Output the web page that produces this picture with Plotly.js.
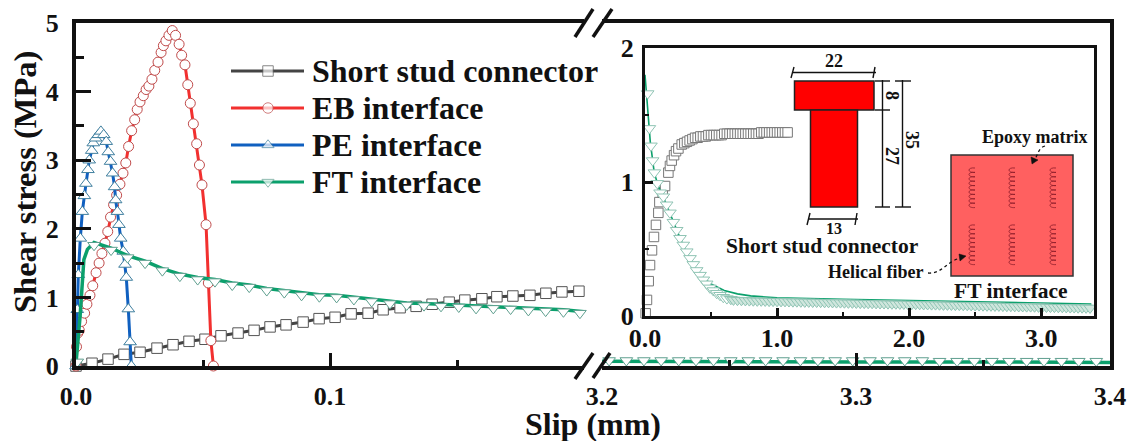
<!DOCTYPE html>
<html><head><meta charset="utf-8">
<script src="https://cdn.plot.ly/plotly-3.0.1.min.js"></script>
<style>html,body{margin:0;padding:0;background:#fff}</style></head>
<body><div id="chart" style="width:1131px;height:441px"></div>
<script>
const studX=[0,.0063,.0126,.0189,.0252,.0319,.0382,.0445,.0508,.0571,.0638,.0701,.0764,.0827,.0894,.0957,.1020,.1083,.1150,.1209,.1276,.1339,.1402,.1469,.1531,.1598,.1657,.1720,.1787,.1850,.1913,.1980];
const studY=[0,.04,.10,.17,.20,.26,.31,.36,.39,.44,.48,.52,.57,.60,.64,.69,.71,.76,.77,.82,.85,.87,.90,.93,.96,.98,1.01,1.02,1.03,1.06,1.08,1.09];
const ebX=[0,.0002,.0007,.0013,.0022,.0034,.0043,.0055,.0066,.0079,.0091,.0102,.0114,.0125,.0136,.0148,.0160,.0173,.0185,.0196,.0207,.0219,.0231,.0241,.0252,.0265,.0276,.0287,.0299,.0310,.0323,.0335,.0344,.0354,.0366,.0379,.0392,.0406,.0416,.0429,.0440,.0450,.0462,.0475,.0486,.0496,.0512,.0521,.0531,.0541];
const ebY=[0,.28,.48,.52,.65,.77,.90,1.03,1.17,1.36,1.50,1.64,1.79,1.96,2.17,2.35,2.49,2.65,2.81,2.96,3.20,3.43,3.59,3.74,3.85,3.94,4.03,4.08,4.18,4.31,4.43,4.57,4.67,4.74,4.82,4.89,4.82,4.69,4.53,4.39,4.10,3.83,3.53,3.24,2.93,2.64,2.06,1.21,.37,0];
const peX=[0,.0005,.0009,.0017,.0025,.0033,.0039,.0047,.0052,.0062,.0068,.0077,.0088,.0098,.0109,.0119,.0127,.0136,.0144,.0152,.0156,.0163,.0169,.0176,.0186,.0193,.0198,.0206,.0213,.0218];
const peY=[0,.82,1.33,1.86,2.25,2.48,2.66,2.86,3.00,3.14,3.25,3.32,3.37,3.42,3.37,3.27,3.12,2.98,2.81,2.61,2.42,2.25,2.06,1.86,1.67,1.48,1.29,.83,.35,0];
const ftX=[.0005,.0071,.0138,.0203,.0272,.0340,.0409,.0479,.0547,.0615,.0682,.0751,.0820,.0888,.0958,.1026,.1094,.1164,.1236,.1302,.1370,.1437,.1507,.1575,.1643,.1711,.1781,.1849,.1919,.1984];
const ftY=[.06,1.76,1.69,1.58,1.50,1.39,1.31,1.26,1.23,1.18,1.15,1.10,1.07,1.03,1.01,1.00,.97,.94,.91,.89,.88,.87,.86,.84,.84,.83,.81,.80,.79,.77];
const ftLineX=[0,.0016,.0031,.0045,.0071,.0138,.0203,.0272,.0340,.0409,.0479,.0547,.0615,.0682,.0751,.0820,.0888,.0958,.1026,.1094,.1164,.1236,.1302,.1370,.1437,.1507,.1575,.1643,.1711,.1781,.1849,.1919,.2];
const ftLineY=[.04,.72,1.55,1.70,1.80,1.72,1.61,1.53,1.42,1.34,1.29,1.26,1.21,1.18,1.13,1.10,1.06,1.04,1.03,1.00,.97,.94,.92,.91,.90,.89,.87,.87,.86,.84,.83,.82,.79];
const ftTailX=[3.2028,3.2096,3.2165,3.2233,3.2302,3.2370,3.2439,3.2507,3.2576,3.2644,3.2713,3.2781,3.2850,3.2918,3.2987,3.3055,3.3124,3.3192,3.3261,3.3329,3.3398,3.3466,3.3535,3.3603,3.3672,3.3740,3.3809,3.3877,3.3946];
const ftTailY=[.08,.08,.08,.08,.08,.08,.08,.08,.08,.08,.08,.08,.08,.08,.08,.08,.08,.08,.08,.07,.07,.07,.07,.07,.07,.07,.07,.07,.07];
const ftTailLineX=[3.2,3.25,3.3,3.35,3.4];
const ftTailLineY=[.07,.06,.06,.06,.05];
const insetStudX=[.005,.015,.028,.038,.053,.068,.083,.101,.109,.134,.152,.177,.189,.202,.220,.235,.253,.278,.298,.318,.338,.359,.379,.399,.419,.439,.460,.48,.50,.52,.54,.56,.58,.60,.62,.64,.66,.68,.70,.72,.74,.76,.78,.80,.82,.84,.86,.88,.90,.92,.94,.96,.98,1.00,1.02,1.04,1.06,1.08];
const insetStudY=[.02,.12,.26,.38,.49,.59,.68,.77,.85,.92,.97,1.07,1.12,1.16,1.20,1.23,1.25,1.28,1.29,1.30,1.31,1.32,1.33,1.33,1.34,1.34,1.34,1.35,1.35,1.35,1.35,1.35,1.35,1.36,1.36,1.36,1.36,1.36,1.36,1.36,1.36,1.36,1.36,1.36,1.36,1.36,1.36,1.37,1.37,1.37,1.37,1.37,1.37,1.37,1.37,1.37,1.37,1.37];
const insetFtX=[.020,.033,.045,.058,.071,.093,.114,.139,.164,.189,.215,.240,.265,.290,.316,.341,.366,.391,.417,.442,.467,.492,.518,.543,.568,.593,.62,.65,.67,.70,.73,.76,.79,.82,.85,.88,.91,.94,.97,1.00,1.03,1.06,1.09,1.12,1.15,1.18,1.21,1.24,1.27,1.30,1.33,1.36,1.39,1.42,1.45,1.48,1.51,1.54,1.57,1.60,1.63,1.66,1.69,1.72,1.75,1.78,1.81,1.84,1.87,1.90,1.93,1.96,1.99,2.02,2.05,2.08,2.11,2.14,2.17,2.20,2.23,2.26,2.29,2.32,2.35,2.38,2.41,2.44,2.47,2.50,2.53,2.56,2.59,2.62,2.65,2.68,2.71,2.74,2.77,2.80,2.83,2.86,2.89,2.92,2.95,2.98,3.01,3.04,3.07,3.10,3.13,3.16,3.19,3.22,3.25,3.28,3.31,3.34,3.37];
const insetFtY=[1.66,1.40,1.27,1.16,1.07,.99,.92,.89,.83,.77,.70,.64,.58,.53,.48,.43,.385,.34,.305,.27,.24,.21,.19,.17,.155,.14,.13,.125,.12,.118,.117,.116,.115,.114,.113,.113,.112,.111,.111,.110,.109,.109,.108,.107,.107,.106,.105,.105,.104,.104,.103,.102,.102,.101,.100,.100,.099,.098,.098,.097,.096,.096,.095,.095,.094,.093,.093,.092,.091,.091,.090,.090,.089,.088,.088,.087,.086,.086,.085,.085,.084,.083,.083,.082,.081,.081,.080,.080,.079,.078,.078,.077,.076,.076,.075,.075,.074,.073,.073,.072,.071,.071,.070,.070,.069,.068,.068,.067,.066,.066,.065,.065,.064,.063,.063,.062,.062,.061,.060];
const insetFtLineX=[0,.02,.04,.07,.10,.15,.2,.3,.4,.5,.6,.7,.8,1,1.5,2,2.5,3,3.38];
const insetFtLineY=[1.8,1.55,1.3,1.07,.97,.86,.74,.5,.32,.24,.19,.165,.15,.135,.125,.115,.105,.097,.09];
const seriesNames=["Short stud connector","EB interface","PE interface","FT interface"];
const leftTicks=[0,.1], leftTickText=["0.0","0.1"];
const rightTicks=[3.2,3.3,3.4], rightTickText=["3.2","3.3","3.4"];
const insetXTicks=[0,1,2,3], insetXText=["0.0","1.0","2.0","3.0"];
const yTicks=[0,1,2,3,4,5], insetYTicks=[0,1,2];
const coilX=[972,1012,1053], coilTop=[168,225];

const SERIF="Liberation Serif";
const C={stud:"#444444",eb:"#f2302f",pe:"#1060c0",ft:"#0ba06c"};
const E={stud:"#555555",eb:"#c04a4a",pe:"#3f7f9f",ft:"#5f9f8f"};
const L=76,R=1110,T=23,B=366;
const H={l:L,r:1131-R,t:T,b:441-B,pad:0};
const px=x=>(x-L)/(R-L), py=y=>(B-y)/(B-T);
function tr(x,y,c,e,sym,name,xa,ya,extra){return Object.assign({x,y,name,xaxis:xa,yaxis:ya,mode:"lines+markers",showlegend:false,cliponaxis:false,
 line:{color:c,width:3},marker:{symbol:sym,size:sym=="circle"?10:(sym=="square"?10.5:11),color:"#fff",line:{color:e,width:1}}},extra||{});}
function lineOnly(x,y,c,xa,ya,w){return {x,y,xaxis:xa,yaxis:ya,mode:"lines",showlegend:false,hoverinfo:"skip",line:{color:c,width:w||3}};}
const traces=[
 tr(studX,studY,C.stud,E.stud,"square",seriesNames[0],"x","y"),
 tr(ebX,ebY,C.eb,E.eb,"circle",seriesNames[1],"x","y"),
 tr(peX,peY,C.pe,E.pe,"triangle-up",seriesNames[2],"x","y"),
 lineOnly(ftLineX,ftLineY,C.ft,"x","y",3.5),
 tr(ftX,ftY,C.ft,E.ft,"triangle-down",seriesNames[3],"x","y",{mode:"markers"}),
 lineOnly(ftTailLineX,ftTailLineY,C.ft,"x2","y2",3.5),
 tr(ftTailX,ftTailY,C.ft,E.ft,"triangle-down",seriesNames[3],"x2","y2",{mode:"markers"}),
 tr(insetStudX,insetStudY,C.stud,"#777","square",seriesNames[0],"x3","y3",{mode:"markers",marker:{symbol:"square",size:9.5,color:"#fff",line:{color:"#777",width:1}}}),
 lineOnly(insetFtLineX,insetFtLineY,C.ft,"x3","y3",1.6),
 tr(insetFtX,insetFtY,C.ft,"#7fb8a8","triangle-down",seriesNames[3],"x3","y3",{mode:"markers",marker:{symbol:"triangle-down",size:11,color:insetFtX.map(v=>v>=.65?"#cfe6dd":"#fff"),line:{color:"#8fc4b4",width:1}}})
];
// legend keys: a key line with a marker at its middle, placed on a hidden pixel-scaled axis
const keyX=[231,268,304], keyRows=[71,108,145,182];
const keyStyle=[[C.stud,E.stud,"square"],[C.eb,E.eb,"circle"],[C.pe,E.pe,"triangle-up"],[C.ft,E.ft,"triangle-down"]];
keyRows.forEach((r,i)=>traces.push({x:keyX,y:[r,r,r],xaxis:"x4",yaxis:"y4",mode:"lines+markers",showlegend:false,hoverinfo:"skip",
  line:{color:keyStyle[i][0],width:3},marker:{symbol:keyStyle[i][2],size:[0,10.5,0],color:"#fff",line:{color:keyStyle[i][1],width:1}}}));
const tickfont={family:SERIF,size:26,weight:700,color:"#111"};
const axBase={showgrid:false,zeroline:false,showline:true,linecolor:"#111",linewidth:4,tickcolor:"#111",tickwidth:3,ticks:"inside",tickfont,fixedrange:true};
const layout={width:1131,height:441,margin:H,paper_bgcolor:"#fff",plot_bgcolor:"rgba(0,0,0,0)",font:{family:SERIF,color:"#111"},
 showlegend:false,
 xaxis:Object.assign({},axBase,{domain:[0,508/1034],range:[0,.2],tickmode:"array",tickvals:leftTicks,ticktext:leftTickText,ticklen:13,mirror:true,anchor:"y",ticklabelstandoff:4,
   minor:{tickvals:[.05,.15],ticks:"inside",ticklen:6,tickwidth:3,tickcolor:"#111"}}),
 yaxis:Object.assign({},axBase,{domain:[0,1],range:[0,5],tickmode:"array",tickvals:yTicks,ticklen:15,anchor:"x",ticklabelstandoff:8,
   minor:{dtick:.5,ticks:"inside",ticklen:8,tickwidth:3,tickcolor:"#111"}}),
 xaxis2:Object.assign({},axBase,{domain:[526/1034,1],range:[3.2,3.4],tickmode:"array",tickvals:rightTicks,ticktext:rightTickText,ticklen:13,mirror:true,anchor:"y2",ticklabelstandoff:4,
   minor:{tickvals:[3.25,3.35],ticks:"inside",ticklen:6,tickwidth:3,tickcolor:"#111"}}),
 yaxis2:Object.assign({},axBase,{domain:[0,1],range:[0,5],anchor:"x2",side:"right",ticks:"",showticklabels:false}),
 xaxis3:Object.assign({},axBase,{domain:[px(645),px(1094)],range:[0,3.4],tickmode:"array",tickvals:insetXTicks,ticktext:insetXText,ticklen:8,mirror:true,anchor:"y3",ticklabelstandoff:-3,linewidth:3,
   minor:{dtick:.5,ticks:"inside",ticklen:4,tickwidth:2,tickcolor:"#111"}}),
 yaxis3:Object.assign({},axBase,{domain:[py(316),py(48)],range:[0,2],tickmode:"array",tickvals:insetYTicks,ticklen:8,mirror:true,anchor:"x3",ticklabelstandoff:3,linewidth:3,
   minor:{dtick:.5,ticks:"inside",ticklen:4,tickwidth:2,tickcolor:"#111"}}),
 xaxis4:{visible:false,domain:[0,1],range:[L,R],anchor:"y4",fixedrange:true},
 yaxis4:{visible:false,domain:[0,1],range:[B,T],anchor:"x4",fixedrange:true},
 shapes:[],annotations:[]};
const S=layout.shapes,A=layout.annotations;
function seg(x0,y0,x1,y1,w,c){S.push({type:"line",xref:"paper",yref:"paper",x0:px(x0),y0:py(y0),x1:px(x1),y1:py(y1),line:{color:c||"#111",width:w}});}
function rect(x0,y0,x1,y1,fill,lc){S.push({type:"rect",xref:"paper",yref:"paper",x0:px(x0),y0:py(y0),x1:px(x1),y1:py(y1),fillcolor:fill,line:{color:lc,width:1.5},layer:"above"});}
function path(pts,opt){S.push(Object.assign({type:"path",xref:"paper",yref:"paper",path:pts},opt));}
const P=(x,y)=>px(x)+","+py(y);
function ann(text,x,y,size,angle,xa){A.push({text,xref:"paper",yref:"paper",x:px(x),y:py(y),xanchor:xa||"center",yanchor:"middle",showarrow:false,textangle:angle||0,font:{family:SERIF,size,weight:700,color:"#111"}});}
// legend labels
seriesNames.forEach((n,i)=>ann(n,310,keyRows[i],32,0,"left"));
// axis breaks
[[575,37,593,9],[593,37,612,9],[575,379,593,353],[593,378,610,353]].forEach(s=>seg(s[0],s[1],s[2],s[3],3.5));
// T section
rect(794.5,81,874,110,"#ff0000","#222");
rect(810.5,110,857.5,207,"#ff0000","#222");
seg(793,72.5,876,72.5,1.4);seg(794,67,791,78,1.4);seg(875,67,873,78,1.4);
seg(808,219,858,219,1.4);seg(810,213,807,225,1.4);seg(857,213,855,225,1.4);
seg(882.5,80,882.5,207,1.4);seg(902.5,80,902.5,207,1.4);
seg(875,81,890,81,1.4);seg(875,110,890,110,1.4);seg(875,207,890,207,1.4);seg(895,81,911,81,1.4);seg(895,207,911,207,1.4);
ann("22",834,61,18);ann("13",834,228,16);ann("8",892,95,18,90);ann("27",892,156,18,90);ann("35",912,140,18,90);
ann("Short stud connector",822,246,21.5);
// FT block
rect(951,155,1073,276,"#ff6060","#333");
coilX.forEach(x=>coilTop.forEach(t=>{let d="M"+P(x+3,t);for(let i=0;i<9;i++){const y=t+i*4.4;d+=" C"+P(x-5,y-1)+" "+P(x-5,y+5)+" "+P(x+3,y+4.4);}path(d,{line:{color:"#8a1a28",width:.8},layer:"above"});}));
ann("Epoxy matrix",1034.5,137,18);
ann("Helical fiber",875,272,18);
ann("FT interface",1011,291,21.5);
path("M"+P(1045,146)+" C"+P(1038,148)+" "+P(1038,155)+" "+P(1034,161),{line:{color:"#111",width:1.3,dash:"dot"},layer:"above"});
path("M"+P(1032,164)+" L"+P(1031,157)+" L"+P(1038,160)+" Z",{fillcolor:"#111",line:{color:"#111",width:.5},layer:"above"});
path("M"+P(928,273)+" C"+P(942,274)+" "+P(946,262)+" "+P(960,258),{line:{color:"#111",width:1.3,dash:"dot"},layer:"above"});
path("M"+P(966,256)+" L"+P(959,254)+" L"+P(960,261)+" Z",{fillcolor:"#111",line:{color:"#111",width:.5},layer:"above"});
// axis titles
ann("Slip (mm)",593,424,32);
ann("Shear stress (MPa)",25,182,32.5,-90);
Plotly.newPlot("chart",traces,layout,{displayModeBar:false});
</script></body></html>
